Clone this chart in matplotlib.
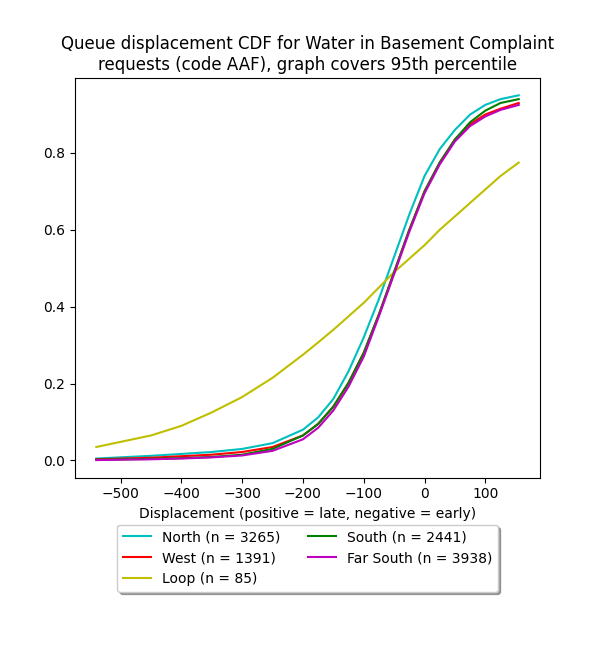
import matplotlib as mpl
mpl.use('Agg')
import matplotlib.pyplot as plt

x = [-540, -450, -400, -350, -300, -250, -200, -175, -150, -125, -100, -75, -50, -25, 0, 25, 50, 75, 100, 125, 155]

north = [.005, .012, .017, .022, .03, .045, .08, .112, .16, .232, .32, .42, .53, .64, .74, .81, .86, .90, .925, .94, .95]
west = [.003, .007, .011, .015, .022, .035, .065, .095, .14, .202, .28, .38, .49, .60, .70, .775, .835, .875, .90, .915, .93]
loop = [.035, .065, .09, .125, .165, .215, .275, .307, .34, .375, .41, .45, .49, .525, .56, .60, .635, .67, .705, .74, .775]
south = [.002, .004, .006, .009, .015, .03, .065, .095, .14, .202, .28, .38, .49, .60, .70, .775, .835, .88, .91, .93, .94]
farsouth = [.001, .003, .005, .008, .013, .025, .055, .085, .13, .192, .27, .375, .485, .595, .695, .77, .83, .87, .895, .912, .925]

series = [("North (n = 3265)", north, 'c'), ("West (n = 1391)", west, 'r'),
          ("Loop (n = 85)", loop, 'y'), ("South (n = 2441)", south, 'g'),
          ("Far South (n = 3938)", farsouth, 'm')]

fig = plt.figure(figsize=(6, 6.5), dpi=100)
ax = fig.add_axes([0.125, 0.265, 0.775, 0.615])
for lab, vals, col in series:
    ax.plot(x, vals, color=col, label=lab)
ax.set_xlim(-575, 190)
ax.set_ylim(-0.045, 0.995)
ax.set_xlabel('Displacement (positive = late, negative = early)')
ax.set_title('Queue displacement CDF for Water in Basement Complaint\nrequests (code AAF), graph covers 95th percentile')
ax.legend(loc='upper center', bbox_to_anchor=(0.5, -0.1), ncol=2, shadow=True)
fig.savefig('out.png')
